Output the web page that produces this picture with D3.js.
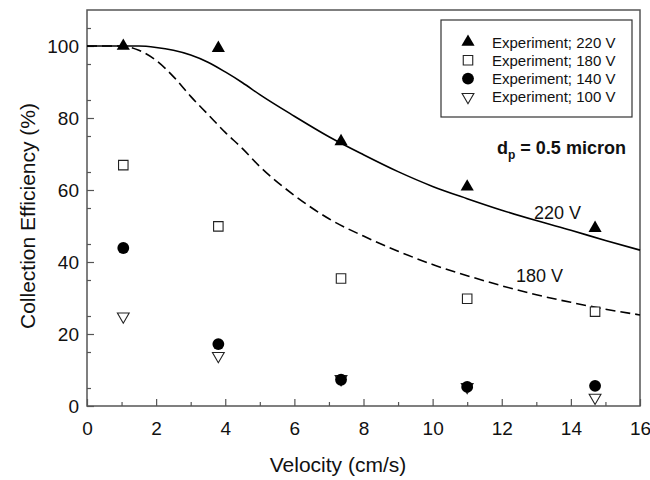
<!DOCTYPE html>
<html>
<head>
<meta charset="utf-8">
<script src="https://cdn.jsdelivr.net/npm/d3@7"></script>
<style>
  body { margin: 0; background: #fff; }
  svg { font-family: "Liberation Sans", Arial, sans-serif; }
</style>
</head>
<body>
<div id="chart"></div>
<script>
// Experimental points (velocity in cm/s, efficiency in %)
const velocity = [1.05, 3.8, 7.35, 11.0, 14.7];
const exp220 = [100, 99.4, 73.5, 60.9, 49.4];
const exp180 = [66.9, 49.9, 35.4, 29.8, 26.2];
const exp140 = [43.9, 17.2, 7.3, 5.3, 5.6];
const exp100 = [24.9, 13.9, 7.5, 5.3, 2.3];

// Model curves
const curveV = [0, 1, 1.5, 2, 2.5, 3, 3.5, 4, 4.5, 5, 6, 7, 8, 9, 10, 11, 12, 13, 14, 15, 16];
const fit220 = [100, 100, 100, 99.6, 98.8, 97.5, 95.5, 92.8, 89.8, 86.5, 80.5, 74.8, 69.8, 65.1, 61.0, 57.6, 54.4, 51.5, 48.8, 46.0, 43.3];
const fit180 = [100, 100, 98.8, 96, 91.5, 86, 81, 76, 71.5, 66.5, 58.5, 52, 47.2, 43, 39.3, 36.2, 33.4, 30.9, 28.8, 26.9, 25.3];

const xTicks = [0, 2, 4, 6, 8, 10, 12, 14, 16];
const yTicks = [0, 20, 40, 60, 80, 100];

const W = 650, H = 480;
const margin = { top: 10, right: 10, bottom: 74, left: 87 };
const w = W - margin.left - margin.right;
const h = H - margin.top - margin.bottom;
const axisColor = '#555';

const svg = d3.select('#chart').append('svg')
  .attr('width', W).attr('height', H);
const g = svg.append('g').attr('transform', `translate(${margin.left},${margin.top})`);

const x = d3.scaleLinear().domain([0, 16]).range([0, w]);
const y = d3.scaleLinear().domain([0, 110]).range([h, 0]);

// frame
g.append('rect').attr('width', w).attr('height', h)
  .attr('fill', 'none').attr('stroke', axisColor).attr('stroke-width', 1.5);

// minor ticks (inward)
g.append('g').attr('transform', `translate(0,${h})`)
  .call(d3.axisTop(x).tickValues(d3.range(1, 16, 2)).tickSize(4).tickFormat(''))
  .call(sel => sel.select('.domain').remove())
  .call(sel => sel.selectAll('line').attr('stroke', axisColor).attr('stroke-width', 1.2));
g.append('g')
  .call(d3.axisRight(y).tickValues(d3.range(5, 110, 10)).tickSize(4).tickFormat(''))
  .call(sel => sel.select('.domain').remove())
  .call(sel => sel.selectAll('line').attr('stroke', axisColor).attr('stroke-width', 1.2));

// major ticks (inward) with labels outside
g.append('g').attr('transform', `translate(0,${h})`)
  .call(d3.axisBottom(x).tickValues(xTicks).tickSizeInner(-7).tickSizeOuter(0).tickPadding(16))
  .call(sel => sel.select('.domain').remove())
  .call(sel => sel.selectAll('line').attr('stroke', axisColor).attr('stroke-width', 1.2))
  .call(sel => sel.selectAll('text').attr('font-size', 19).attr('fill', '#111')
    .attr('font-family', '"Liberation Sans", Arial, sans-serif'));
g.append('g')
  .call(d3.axisLeft(y).tickValues(yTicks).tickSizeInner(-7).tickSizeOuter(0).tickPadding(8))
  .call(sel => sel.select('.domain').remove())
  .call(sel => sel.selectAll('line').attr('stroke', axisColor).attr('stroke-width', 1.2))
  .call(sel => sel.selectAll('text').attr('font-size', 19).attr('fill', '#111')
    .attr('font-family', '"Liberation Sans", Arial, sans-serif'));

// axis titles
svg.append('text')
  .attr('x', 338).attr('y', 472)
  .attr('text-anchor', 'middle').attr('font-size', 21).attr('fill', '#111')
  .text('Velocity (cm/s)');
svg.append('text')
  .attr('transform', 'translate(35,216) rotate(-90)')
  .attr('text-anchor', 'middle').attr('font-size', 21).attr('fill', '#111')
  .text('Collection Efficiency (%)');

// model curves
const fitLine = vals => d3.line()
  .x((d, i) => x(curveV[i])).y(d => y(d))
  .curve(d3.curveMonotoneX)(vals);
g.append('path').attr('d', fitLine(fit220))
  .attr('fill', 'none').attr('stroke', '#000').attr('stroke-width', 1.6);
g.append('path').attr('d', fitLine(fit180))
  .attr('fill', 'none').attr('stroke', '#000').attr('stroke-width', 1.6)
  .attr('stroke-dasharray', '10,5');

// markers
const series = [
  { label: 'Experiment; 220 V', vals: exp220, type: d3.symbolTriangle, size: 75, fill: '#000', stroke: 'none', rot: 0 },
  { label: 'Experiment; 180 V', vals: exp180, type: d3.symbolSquare, size: 90, fill: '#fff', stroke: '#222', rot: 0 },
  { label: 'Experiment; 140 V', vals: exp140, type: d3.symbolCircle, size: 110, fill: '#000', stroke: 'none', rot: 0 },
  { label: 'Experiment; 100 V', vals: exp100, type: d3.symbolTriangle, size: 60, fill: '#fff', stroke: '#222', rot: 180 },
];
const drawOrder = [3, 2, 1, 0];
drawOrder.forEach(k => {
  const s = series[k];
  g.selectAll(null).data(s.vals).enter().append('path')
    .attr('d', d3.symbol().type(s.type).size(s.size))
    .attr('transform', (d, i) => `translate(${x(velocity[i])},${y(d)}) rotate(${s.rot})`)
    .attr('fill', s.fill).attr('stroke', s.stroke).attr('stroke-width', 1.1);
});

// legend
const lg = svg.append('g').attr('transform', 'translate(441,20)');
lg.append('rect').attr('width', 191).attr('height', 97)
  .attr('fill', '#fff').attr('stroke', '#333').attr('stroke-width', 1.2);
series.forEach((s, i) => {
  const ry = 22 + i * 18.3;
  lg.append('path')
    .attr('d', d3.symbol().type(s.type).size(s.size))
    .attr('transform', `translate(27,${ry}) rotate(${s.rot})`)
    .attr('fill', s.fill).attr('stroke', s.stroke).attr('stroke-width', 1.1);
  lg.append('text').attr('x', 51).attr('y', ry + 5.5)
    .attr('font-size', 15).attr('fill', '#111').text(s.label);
});

// annotations
const dp = svg.append('text').attr('x', 497).attr('y', 154)
  .attr('font-size', 18).attr('font-weight', 'bold').attr('fill', '#111');
dp.append('tspan').text('d');
dp.append('tspan').attr('font-size', 12).attr('dy', 5).text('p');
dp.append('tspan').attr('dy', -5).text(' = 0.5 micron');

svg.append('text').attr('x', 534).attr('y', 219)
  .attr('font-size', 18).attr('fill', '#111').text('220 V');
svg.append('text').attr('x', 516).attr('y', 282)
  .attr('font-size', 18).attr('fill', '#111').text('180 V');
</script>
</body>
</html>
